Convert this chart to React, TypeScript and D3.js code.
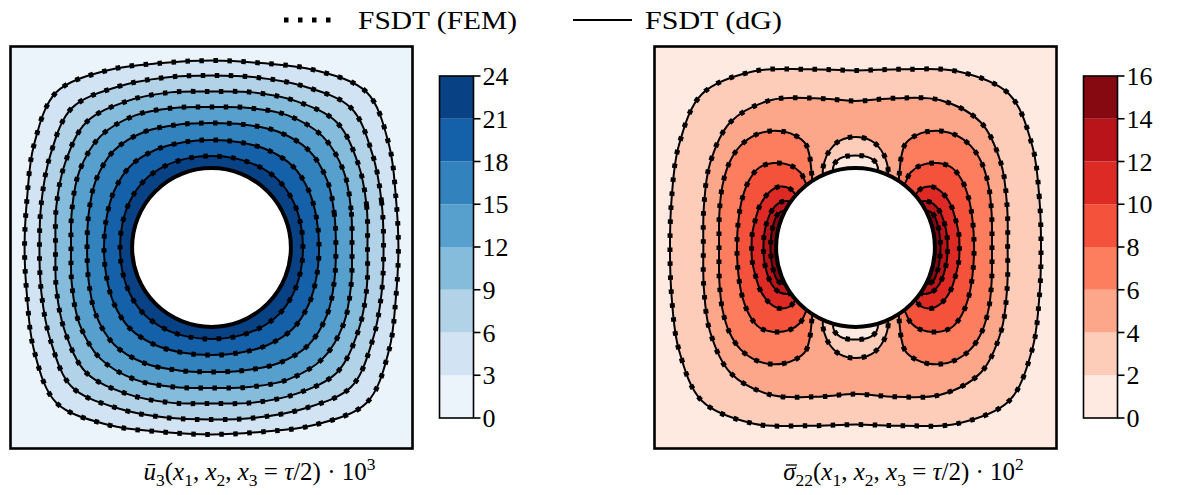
import React, { useLayoutEffect, useRef, useState } from 'react';
import * as d3 from 'd3';

type Pt = [number, number];

// figure layout (px)
const FIG_W = 1177;
const FIG_H = 495;
const BOX = 402;
const BOX_TOP = 46.5;
const LEFT_BOX_X = 10.5;
const RIGHT_BOX_X = 654.5;
const HOLE_R = 0.395; // hole radius, plate half-width = 1
const FONT = "'Liberation Serif', 'DejaVu Serif', serif";

// ---- left plot: u3 * 10^3
const u3Levels = [0, 3, 6, 9, 12, 15, 18, 21, 24];
const u3Colors = ['#ebf3fb', '#d2e3f3', '#b2d2e8', '#85bcdc', '#57a0ce', '#3282be', '#1561a9', '#084184'];
// radius of each contour line at 0, 15, 30, 45 deg (same in every octant), levels 3 .. 21
const u3Radii = [
  [0.930, 0.950, 1.020, 1.092],
  [0.856, 0.876, 0.925, 0.982],
  [0.776, 0.799, 0.841, 0.881],
  [0.699, 0.719, 0.759, 0.782],
  [0.619, 0.633, 0.665, 0.684],
  [0.535, 0.542, 0.560, 0.572],
  [0.455, 0.459, 0.467, 0.472],
];

// ---- right plot: sigma22 * 10^2
const s22Levels = [0, 2, 4, 6, 8, 10, 12, 14, 16];
const s22Colors = ['#ffeae1', '#fdcdb9', '#fca68a', '#fc7e5e', '#f5523b', '#dd2a25', '#b81419', '#860811'];
// closed contours around everything: radius at 0, 15, ..., 90 deg (mirrored to the other quadrants)
const s22RingLevels = [2, 4];
const s22RingRadii = [
  [0.923, 0.947, 1.015, 1.080, 1.012, 0.918, 0.881],
  [0.757, 0.781, 0.836, 0.881, 0.846, 0.769, 0.729],
];
// side lobes: [distance left of centre, height] from the hole edge down to the x1 axis
const s22LobeLevels = [6, 8, 10, 12, 14];
const s22Lobes: Pt[][] = [
  [[0.211, 0.289], [0.215, 0.336], [0.221, 0.398], [0.229, 0.458], [0.249, 0.517], [0.299, 0.557], [0.358, 0.577],
   [0.423, 0.580], [0.498, 0.560], [0.572, 0.507], [0.627, 0.423], [0.662, 0.308], [0.677, 0.174], [0.679, 0]],
  [[0.224, 0.284], [0.246, 0.318], [0.274, 0.373], [0.328, 0.410], [0.408, 0.420], [0.478, 0.398], [0.527, 0.338],
   [0.562, 0.249], [0.582, 0.139], [0.590, 0]],
  [[0.269, 0.229], [0.299, 0.264], [0.328, 0.294], [0.378, 0.303], [0.428, 0.276], [0.473, 0.214], [0.498, 0.139],
   [0.515, 0.060], [0.517, 0]],
  [[0.299, 0.199], [0.328, 0.229], [0.376, 0.224], [0.413, 0.189], [0.440, 0.129], [0.455, 0.060], [0.458, 0]],
  [[0.328, 0.154], [0.356, 0.182], [0.388, 0.164], [0.410, 0.109], [0.420, 0.050], [0.423, 0]],
];
// small loops above / below the hole (values lower than the level inside)
const s22LoopLevels = [4, 2];
const s22Loops: Pt[][] = [
  [[0.144, 0.328], [0.162, 0.366], [0.154, 0.428], [0.127, 0.485], [0.077, 0.532], [0, 0.550]],
  [[0.100, 0.348], [0.112, 0.383], [0.104, 0.418], [0.077, 0.443], [0.040, 0.455], [0, 0.458]],
];

function ringPoints(quad: number[]): Pt[] {
  const pts: Pt[] = [];
  for (let k = 0; k < 24; k++) {
    const deg = k * 15;
    const q = deg <= 90 ? deg : deg <= 180 ? 180 - deg : deg <= 270 ? deg - 180 : 360 - deg;
    const r = quad[q / 15];
    const a = (deg * Math.PI) / 180;
    pts.push([r * Math.cos(a), r * Math.sin(a)]);
  }
  return pts;
}

function lobePoints(q: Pt[], side: number): Pt[] {
  const top = q.map(([dx, dy]) => [side * dx, dy] as Pt);
  const bottom = q.slice(0, -1).reverse().map(([dx, dy]) => [side * dx, -dy] as Pt);
  return [...top, ...bottom];
}

function loopPoints(q: Pt[], vs: number): Pt[] {
  const left = q.map(([dx, dy]) => [-dx, vs * dy] as Pt);
  const right = q.slice(0, -1).reverse().map(([dx, dy]) => [dx, vs * dy] as Pt);
  return [...left, ...right];
}

type Shape = { pts: Pt[]; closed: boolean; fill: string };

function ContourPanel({ boxX, shapes, bg, id }: { boxX: number; shapes: Shape[]; bg: string; id: string }) {
  const xs = d3.scaleLinear().domain([-1, 1]).range([boxX, boxX + BOX]);
  const ys = d3.scaleLinear().domain([-1, 1]).range([BOX_TOP + BOX, BOX_TOP]);
  const closedLine = d3.line<Pt>().x(p => xs(p[0])).y(p => ys(p[1])).curve(d3.curveCatmullRomClosed.alpha(0.5));
  const openLine = d3.line<Pt>().x(p => xs(p[0])).y(p => ys(p[1])).curve(d3.curveCatmullRom.alpha(0.5));
  const paths = shapes.map(s => ({ ...s, d: s.closed ? closedLine(s.pts)! : openLine(s.pts)! }));
  return (
    <g>
      <defs>
        <clipPath id={id}>
          <rect x={boxX} y={BOX_TOP} width={BOX} height={BOX} />
        </clipPath>
      </defs>
      <g clipPath={`url(#${id})`}>
        <rect x={boxX} y={BOX_TOP} width={BOX} height={BOX} fill={bg} />
        {paths.map((p, i) => (
          <path key={'f' + i} d={p.closed ? p.d : p.d + 'Z'} fill={p.fill} stroke="none" />
        ))}
        {paths.map((p, i) => (
          <path key={'s' + i} d={p.d} fill="none" stroke="#000" strokeWidth={2} />
        ))}
        {paths.map((p, i) => (
          <path key={'d' + i} d={p.d} fill="none" stroke="#000" strokeWidth={5} strokeDasharray="4.5 9.5" />
        ))}
        <circle cx={xs(0)} cy={ys(0)} r={xs(HOLE_R) - xs(0)} fill="#fff" stroke="#000" strokeWidth={4} />
      </g>
      <rect x={boxX} y={BOX_TOP} width={BOX} height={BOX} fill="none" stroke="#000" strokeWidth={2.6} />
    </g>
  );
}

function Colorbar({ x, levels, colors }: { x: number; levels: number[]; colors: string[] }) {
  const w = 34;
  const cy = d3.scaleLinear().domain([levels[0], levels[levels.length - 1]]).range([418, 76]);
  return (
    <g>
      {colors.map((c, i) => (
        <rect key={i} x={x} y={cy(levels[i + 1])} width={w} height={cy(levels[i]) - cy(levels[i + 1])} fill={c} />
      ))}
      <rect x={x} y={cy.range()[1]} width={w} height={cy.range()[0] - cy.range()[1]} fill="none" stroke="#000" strokeWidth={1.6} />
      {levels.map(v => (
        <g key={v}>
          <line x1={x + w} x2={x + w + 7} y1={cy(v)} y2={cy(v)} stroke="#000" strokeWidth={1.6} />
          <text x={x + w + 9} y={cy(v)} dy="0.35em" fontSize={26} fontFamily={FONT}>{v}</text>
        </g>
      ))}
    </g>
  );
}

type Seg = { t: string; i?: boolean; sub?: boolean; sup?: boolean; bar?: boolean };

function MathLabel({ x, y, segs, size }: { x: number; y: number; segs: Seg[]; size: number }) {
  const ref = useRef<SVGTextElement>(null);
  const [bar, setBar] = useState<null | { x1: number; x2: number }>(null);
  const barIndex = segs.findIndex(s => s.bar);
  useLayoutEffect(() => {
    if (barIndex < 0 || !ref.current) return;
    const idx = segs.slice(0, barIndex).reduce((n, s) => n + s.t.length, 0);
    const r = ref.current.getExtentOfChar(idx);
    setBar({ x1: r.x + r.width * 0.22, x2: r.x + r.width + 1.5 });
  }, [x, y, size]);
  let shift = 0;
  const spans = segs.map((s, k) => {
    const target = s.sub ? size * 0.22 : s.sup ? -size * 0.4 : 0;
    const dy = target - shift;
    shift = target;
    return (
      <tspan key={k} dy={dy} fontStyle={s.i ? 'italic' : 'normal'} fontSize={s.sub || s.sup ? size * 0.7 : size}>
        {s.t}
      </tspan>
    );
  });
  return (
    <g>
      <text ref={ref} x={x} y={y} textAnchor="middle" fontSize={size} fontFamily={FONT} style={{ whiteSpace: 'pre' }}>
        {spans}
      </text>
      {bar && <line x1={bar.x1} x2={bar.x2} y1={y - size * 0.6} y2={y - size * 0.6} stroke="#000" strokeWidth={1.3} />}
    </g>
  );
}

const u3Title: Seg[] = [
  { t: 'ū', i: true }, { t: '3', sub: true }, { t: '(' }, { t: 'x', i: true }, { t: '1', sub: true }, { t: ', ' },
  { t: 'x', i: true }, { t: '2', sub: true }, { t: ', ' }, { t: 'x', i: true }, { t: '3', sub: true }, { t: ' = ' },
  { t: 'τ', i: true }, { t: '/2) · 10' }, { t: '3', sup: true },
];
const s22Title: Seg[] = [
  { t: 'σ', i: true, bar: true }, { t: '22', sub: true }, { t: '(' }, { t: 'x', i: true },
  { t: '1', sub: true }, { t: ', ' }, { t: 'x', i: true }, { t: '2', sub: true }, { t: ', ' }, { t: 'x', i: true },
  { t: '3', sub: true }, { t: ' = ' }, { t: 'τ', i: true }, { t: '/2) · 10' }, { t: '2', sup: true },
];

export default function App() {
  const leftShapes: Shape[] = u3Radii.map((o, i) => ({
    pts: ringPoints([o[0], o[1], o[2], o[3], o[2], o[1], o[0]]),
    closed: true,
    fill: u3Colors[i + 1],
  }));

  const rightShapes: Shape[] = [];
  s22RingRadii.forEach((q, i) => {
    rightShapes.push({ pts: ringPoints(q), closed: true, fill: s22Colors[s22Levels.indexOf(s22RingLevels[i])] });
  });
  s22Loops.forEach((q, i) => {
    const fill = s22Colors[s22Levels.indexOf(s22LoopLevels[i]) - 1];
    rightShapes.push({ pts: loopPoints(q, 1), closed: false, fill });
    rightShapes.push({ pts: loopPoints(q, -1), closed: false, fill });
  });
  s22Lobes.forEach((q, i) => {
    const fill = s22Colors[s22Levels.indexOf(s22LobeLevels[i])];
    rightShapes.push({ pts: lobePoints(q, -1), closed: false, fill });
    rightShapes.push({ pts: lobePoints(q, 1), closed: false, fill });
  });

  return (
    <svg width={FIG_W} height={FIG_H} style={{ position: 'absolute', left: 0, top: 0, background: '#fff' }}>
      <ContourPanel boxX={LEFT_BOX_X} shapes={leftShapes} bg={u3Colors[0]} id="clipL" />
      <ContourPanel boxX={RIGHT_BOX_X} shapes={rightShapes} bg={s22Colors[0]} id="clipR" />
      <Colorbar x={439.5} levels={u3Levels} colors={u3Colors} />
      <Colorbar x={1083.5} levels={s22Levels} colors={s22Colors} />
      <MathLabel x={LEFT_BOX_X + BOX / 2 + 48} y={480} segs={u3Title} size={25} />
      <MathLabel x={RIGHT_BOX_X + BOX / 2 + 48} y={480} segs={s22Title} size={25} />
      {/* legend */}
      <line x1={284} x2={331} y1={20} y2={20} stroke="#000" strokeWidth={5} strokeDasharray="4.5 9.5" />
      <text x={358} y={29} fontSize={26} fontFamily={FONT} textLength={159} lengthAdjust="spacingAndGlyphs">FSDT (FEM)</text>
      <line x1={573} x2={632} y1={20} y2={20} stroke="#000" strokeWidth={2} />
      <text x={645} y={29} fontSize={26} fontFamily={FONT} textLength={137} lengthAdjust="spacingAndGlyphs">FSDT (dG)</text>
    </svg>
  );
}
